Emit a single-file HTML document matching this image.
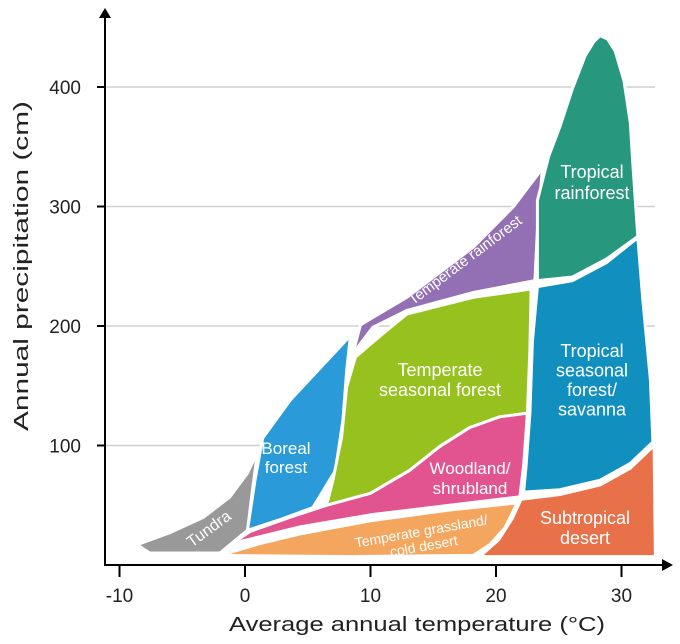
<!DOCTYPE html>
<html><head><meta charset="utf-8"><style>
html,body{margin:0;padding:0;background:#fff}
svg{display:block;font-family:"Liberation Sans",Arial,sans-serif}
</style></head><body>
<svg id="chart" width="680" height="644" viewBox="0 0 680 644">
<g id="grid"></g>
<g id="biomes"></g>
<g id="labels"></g>
<g id="axes"></g>
</svg>
<script>
const xTicks = [-10, 0, 10, 20, 30];
const yTicks = [100, 200, 300, 400];
const tundra = [[-8.6,17],[-6,27],[-3.3,40],[-1.2,57],[0.2,77],[1,95],[0.6,63],[0.2,29],[-2,10],[-7.6,10]];
const boreal = [[8.4,192],[6,165],[3.6,138],[1.4,106],[0.8,71],[0.2,29],[2.8,38],[5.4,48],[7.2,79],[7.8,121],[8.1,163]];
const tempRain = [[8.6,177],[9.2,201],[12.9,224],[18.2,266],[21.4,300],[23.7,332],[23.3,280],[23.1,238],[18.2,228],[12.9,213],[10.2,199]];
const tempSeasonal = [[8.8,174],[10.8,192],[12.9,210],[18.2,224],[22.8,231],[22.7,180],[22.5,127],[20.3,124],[17.9,115],[15.5,99],[13.1,79],[10,60],[6.5,50],[7,71],[7.7,107],[8.1,149]];
const woodland = [[-1,18],[0.4,28],[3.6,40],[6.5,50],[10,60],[13.1,79],[15.5,99],[17.9,115],[20.3,124],[22.5,127],[22.2,83],[21.9,57],[16.3,50],[10,42],[4.4,32]];
const grassland = [[-2,8],[1.2,18],[4.4,26],[10,37],[16.3,46],[21.7,52],[20.7,31],[19.5,17],[18.2,8],[8.4,7]];
const desert = [[22,55],[25.1,59],[28.3,67],[30.7,81],[32.6,100],[32.7,7],[18.7,7],[20.2,21],[21.3,39]];
const tropSeasonal = [[23.3,233],[22.9,187],[22.7,127],[22.4,83],[22.2,61],[25.1,63],[28.3,71],[30.7,85],[32.5,103],[32.3,155],[31.7,222],[31.3,274],[28.8,253],[26.1,238]];
const tropRain = [[23.3,238],[23.3,305],[24.2,342],[25.1,367],[26.1,399],[27.1,426],[27.8,438],[28.3,443],[28.9,440],[29.5,430],[30.2,405],[30.7,370],[30.9,336],[31.3,275],[28.8,256],[26.1,241]];

function xs(t){return 245 + t*12.55;}
function ys(p){return 565 - p*1.195;}
const NS='http://www.w3.org/2000/svg';
function mk(tag, attrs, parent){const e=document.createElementNS(NS,tag);for(const k in attrs)e.setAttribute(k,attrs[k]);parent.appendChild(e);return e;}

const grid=document.getElementById('grid');
yTicks.forEach(v=>{
  const l=mk('line',{x1:106,x2:655,y1:ys(v),y2:ys(v),stroke:'#d0d0d0','stroke-width':1.5},grid);
  
  
});

const biomes=document.getElementById('biomes');
function region(pts,color,name){
  const d='M'+pts.map(p=>xs(p[0]).toFixed(1)+','+ys(p[1]).toFixed(1)).join('L')+'Z';
  const e=mk('path',{d:d,fill:color,stroke:'#fff','stroke-width':3,'stroke-linejoin':'round'},biomes);
  
  
}
region(tundra,'#999999','tundra-region');
region(boreal,'#2b9ad8','boreal-forest-region');
region(tempRain,'#9370b3','temperate-rainforest-region');
region(tempSeasonal,'#97c11f','temperate-seasonal-forest-region');
region(woodland,'#e2548f','woodland-shrubland-region');
region(grassland,'#f4a65e','temperate-grassland-region');
region(desert,'#e9714a','subtropical-desert-region');
region(tropSeasonal,'#1190c0','tropical-seasonal-forest-region');
region(tropRain,'#27977d','tropical-rainforest-region');

const labels=document.getElementById('labels');
function lbl(lines,x,y,size,rot,name,lh){
  const t=mk('text',{x:x,y:y,fill:'#fff','font-size':size,'text-anchor':'middle'},labels);
  if(rot) t.setAttribute('transform','rotate('+rot+' '+x+' '+y+')');
  
  
  lines.forEach((s,i)=>{const ts=mk('tspan',{x:x,dy:i?lh:0},t);ts.textContent=s;});
}
lbl(['Tundra'],212,533,16,-36,'tundra-label',0);
lbl(['Boreal','forest'],286,454,17,0,'boreal-forest-label',19);
lbl(['Temperate rainforest'],468,264,15,-37,'temperate-rainforest-label',0);
lbl(['Temperate','seasonal forest'],440,376,18,0,'temperate-seasonal-forest-label',20);
lbl(['Woodland/','shrubland'],470,474,17,0,'woodland-shrubland-label',20);
lbl(['Temperate grassland/','cold desert'],422,536,14,-10,'temperate-grassland-label',15);
lbl(['Subtropical','desert'],585,524,18,0,'subtropical-desert-label',20);
lbl(['Tropical','seasonal','forest/','savanna'],592,357,18,0,'tropical-seasonal-forest-label',19.5);
lbl(['Tropical','rainforest'],592,178,18,0,'tropical-rainforest-label',21);

const axes=document.getElementById('axes');
let e;
e=mk('line',{x1:105,y1:16,x2:105,y2:566,stroke:'#000','stroke-width':2},axes);

e=mk('path',{d:'M99,18 L105,8 L111,18 Z',fill:'#000'},axes);

e=mk('line',{x1:104,y1:565,x2:664,y2:565,stroke:'#000','stroke-width':2},axes);

e=mk('path',{d:'M662,559 L673,565 L662,571 Z',fill:'#000'},axes);

xTicks.forEach(v=>{
  const tk=mk('line',{x1:xs(v),x2:xs(v),y1:565,y2:577,stroke:'#000','stroke-width':2},axes);
  
  
  const tx=mk('text',{x:xs(v),y:602,'font-size':19,'text-anchor':'middle',fill:'#222'},axes);
  tx.textContent=v;
  
  
});
yTicks.forEach(v=>{
  const tk=mk('line',{x1:97,x2:105,y1:ys(v),y2:ys(v),stroke:'#000','stroke-width':2},axes);
  
  
  const tx=mk('text',{x:81,y:ys(v)+7,'font-size':19,'text-anchor':'end',fill:'#222'},axes);
  tx.textContent=v;
  
  
});
e=mk('text',{x:417,y:631,'font-size':20,'text-anchor':'middle',fill:'#222',textLength:376,lengthAdjust:'spacingAndGlyphs'},axes);
e.textContent='Average annual temperature (°C)';

e=mk('text',{x:28,y:266,'font-size':20,'text-anchor':'middle',fill:'#222',transform:'rotate(-90 28 266)',textLength:330,lengthAdjust:'spacingAndGlyphs'},axes);
e.textContent='Annual precipitation (cm)';

</script>
</body></html>
